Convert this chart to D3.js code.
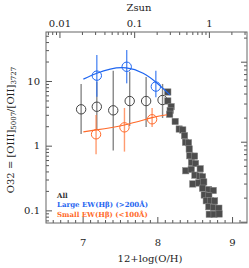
<!DOCTYPE html>
<html>
<head>
<meta charset="utf-8">
<script src="https://cdn.jsdelivr.net/npm/d3@7"></script>
<style>
  body { margin: 0; background: #fff; }
  text { font-family: "DejaVu Serif", serif; }
</style>
</head>
<body>
<div id="svg-area"></div>
<script>
const width = 249;
const height = 268;
const margin = {top: 32, left: 46, bottom: 45, right: 2};

// stacked sample: x = 12+log(O/H), y = O32
const allX = [6.98, 7.19, 7.41, 7.63, 7.85, 8.07];
const allY = [3.65, 4.0, 3.52, 4.9, 4.9, 5.08];
const allLo = [1.52, 1.75, 0.84, 2.02, 1.95, 2.68];
const allHi = [9.0, 9.7, 14.4, 13.9, 11.5, 9.0];

const largeX = [7.19, 7.59, 7.98];
const largeY = [12.1, 16.6, 8.2];
const largeLo = [5.7, 9.2, 5.6];
const largeHi = [25.2, 30.1, 14.4];

const smallX = [7.18, 7.56, 7.93];
const smallY = [1.5, 1.92, 2.56];
const smallLo = [0.74, 0.81, 1.95];
const smallHi = [2.98, 3.83, 3.83];

// fit curves
const largeFitX = [7.01, 7.19, 7.37, 7.585, 7.81, 7.99, 8.17];
const largeFitY = [10.7, 13.2, 15.3, 15.9, 13.2, 9.4, 6.1];
const smallFitX = [7.01, 7.18, 7.56, 7.93, 8.13];
const smallFitY = [1.64, 1.75, 2.09, 2.71, 3.01];

// local galaxies (squares)
const localX = [8.14, 8.14, 8.185, 8.172, 8.165, 8.239, 8.293, 8.34, 8.364, 8.377,
  8.417, 8.427, 8.434, 8.498, 8.458, 8.511, 8.38, 8.454, 8.574, 8.503,
  8.568, 8.605, 8.474, 8.554, 8.621, 8.605, 8.686, 8.749, 8.628, 8.689,
  8.655, 8.713, 8.766, 8.689, 8.753, 8.823, 8.695, 8.76, 8.827];
const localY = [6.76, 4.91, 4.01, 3.5, 3.06, 2.37, 1.81, 1.75, 1.43, 1.13,
  1.11, 0.89, 0.70, 0.69, 0.55, 0.53, 0.41, 0.43, 0.44, 0.35,
  0.34, 0.33, 0.256, 0.265, 0.275, 0.22, 0.21, 0.203, 0.173, 0.167,
  0.141, 0.140, 0.140, 0.114, 0.111, 0.108, 0.087, 0.087, 0.088];

const xTicks = [7, 8, 9];
const yTicks = [0.1, 1, 10];
const zTicks = [0.01, 0.1, 1];
const legendLabels = ['All', 'Large EW(Hβ) (>200Å)', 'Small EW(Hβ) (<100Å)'];
const legendColors = ['#333', '#1f66f0', '#ff6a2a'];

const solarOH = 8.69;

const x = d3.scaleLinear().domain([6.51, 9.2]).range([margin.left, width - margin.right]);
const y = d3.scaleLog().domain([0.0638, 57.2]).range([height - margin.bottom, margin.top]);
const z = d3.scaleLog()
  .domain(x.domain().map(v => Math.pow(10, v - solarOH)))
  .range(x.range());
// unlabelled right-hand axis
const yr = d3.scaleLog().domain([0.00964, 2.35]).range([height - margin.bottom, margin.top]);

const svg = d3.select('#svg-area').append('svg').attr('width', width).attr('height', height);

const styleAxis = g => g
  .call(g => g.select('.domain').remove())
  .call(g => g.selectAll('line').attr('stroke', '#555'))
  .call(g => g.selectAll('text').attr('fill', '#222').style('font-size', '10px')
    .style('font-family', '"DejaVu Serif", serif'));

const minorX = d3.range(6.6, 9.2, 0.1).filter(v => Math.abs(v - Math.round(v)) > 0.01);
const logMinor = (s) => s.ticks().filter(v => Math.abs(Math.log10(v) - Math.round(Math.log10(v))) > 1e-6);
const logMajor = (s) => s.ticks().filter(v => Math.abs(Math.log10(v) - Math.round(Math.log10(v))) < 1e-6);

// bottom
svg.append('g').attr('transform', `translate(0,${height - margin.bottom})`)
  .call(d3.axisBottom(x).tickValues(xTicks).tickSize(-6).tickPadding(16).tickFormat(d3.format('d')))
  .call(styleAxis);
svg.append('g').attr('transform', `translate(0,${height - margin.bottom})`)
  .call(d3.axisBottom(x).tickValues(minorX).tickSize(-3).tickFormat(''))
  .call(styleAxis);

// top
svg.append('g').attr('transform', `translate(0,${margin.top})`)
  .call(d3.axisTop(z).tickValues(zTicks).tickSize(-6).tickPadding(5).tickFormat(d => String(d)))
  .call(styleAxis);
svg.append('g').attr('transform', `translate(0,${margin.top})`)
  .call(d3.axisTop(z).tickValues(logMinor(z)).tickSize(-3).tickFormat(''))
  .call(styleAxis);

// left
svg.append('g').attr('transform', `translate(${margin.left},0)`)
  .call(d3.axisLeft(y).tickValues(yTicks).tickSize(-6).tickPadding(6).tickFormat(d => String(d)))
  .call(styleAxis);
svg.append('g').attr('transform', `translate(${margin.left},0)`)
  .call(d3.axisLeft(y).tickValues(logMinor(y)).tickSize(-3).tickFormat(''))
  .call(styleAxis);

// right
svg.append('g').attr('transform', `translate(${width - margin.right},0)`)
  .call(d3.axisRight(yr).tickValues(logMajor(yr)).tickSize(-6).tickFormat(''))
  .call(styleAxis);
svg.append('g').attr('transform', `translate(${width - margin.right},0)`)
  .call(d3.axisRight(yr).tickValues(logMinor(yr)).tickSize(-3).tickFormat(''))
  .call(styleAxis);

svg.append('rect')
  .attr('x', margin.left).attr('y', margin.top)
  .attr('width', width - margin.left - margin.right)
  .attr('height', height - margin.top - margin.bottom)
  .attr('fill', 'none').attr('stroke', '#666').attr('stroke-width', 1);

// axis titles
svg.append('text').attr('x', 139).attr('y', 11).attr('text-anchor', 'middle')
  .style('font-size', '10px').attr('fill', '#222').text('Zsun');
svg.append('text').attr('x', 150).attr('y', 262).attr('text-anchor', 'middle')
  .style('font-size', '10px').attr('fill', '#222').text('12+log(O/H)');

const ylab = svg.append('text')
  .attr('transform', `translate(14,130) rotate(-90)`)
  .attr('text-anchor', 'middle')
  .style('font-size', '10px').attr('fill', '#222');
ylab.append('tspan').text('O32 = [OIII]');
ylab.append('tspan').attr('dy', 2).style('font-size', '7px').text('5007');
ylab.append('tspan').attr('dy', -2).text('/[OII]');
ylab.append('tspan').attr('dy', 2).style('font-size', '7px').text('3727');

const plot = svg.append('g');

const drawGroup = (xs, ys, lo, hi, color, barColor, barOpacity) => {
  plot.append('g').selectAll('line').data(xs).enter().append('line')
    .attr('x1', d => x(d)).attr('x2', d => x(d))
    .attr('y1', (d, i) => y(lo[i])).attr('y2', (d, i) => y(hi[i]))
    .attr('stroke', barColor).attr('stroke-width', 1.4).attr('stroke-opacity', barOpacity);
  plot.append('g').selectAll('circle').data(xs).enter().append('circle')
    .attr('cx', d => x(d)).attr('cy', (d, i) => y(ys[i])).attr('r', 4.7)
    .attr('fill', 'none').attr('stroke', color).attr('stroke-width', 1);
};

const fitLine = d3.line().x(d => x(d[0])).y(d => y(d[1])).curve(d3.curveNatural);

drawGroup(allX, allY, allLo, allHi, '#444', '#7a7a7a', 0.9);

plot.append('g').selectAll('rect').data(localX).enter().append('rect')
  .attr('x', d => x(d) - 3.2).attr('y', (d, i) => y(localY[i]) - 3.2)
  .attr('width', 6.4).attr('height', 6.4)
  .attr('fill', '#4d4d4d').attr('stroke', '#8a8a8a').attr('stroke-width', 0.5);

drawGroup(smallX, smallY, smallLo, smallHi, '#ff6a2a', '#ff7a40', 0.75);
plot.append('path').datum(smallFitX.map((d, i) => [d, smallFitY[i]]))
  .attr('d', fitLine).attr('fill', 'none').attr('stroke', '#ff6a2a').attr('stroke-width', 1.2);

drawGroup(largeX, largeY, largeLo, largeHi, '#1f66f0', '#2f72f0', 0.8);
plot.append('path').datum(largeFitX.map((d, i) => [d, largeFitY[i]]))
  .attr('d', fitLine).attr('fill', 'none').attr('stroke', '#1f66f0').attr('stroke-width', 1.2);

// legend
svg.append('g').selectAll('text').data(legendLabels).enter().append('text')
  .attr('x', 57).attr('y', (d, i) => 198 + i * 9.3)
  .style('font-size', '7px').style('font-weight', 'bold')
  .attr('fill', (d, i) => legendColors[i])
  .text(d => d);
</script>
</body>
</html>
